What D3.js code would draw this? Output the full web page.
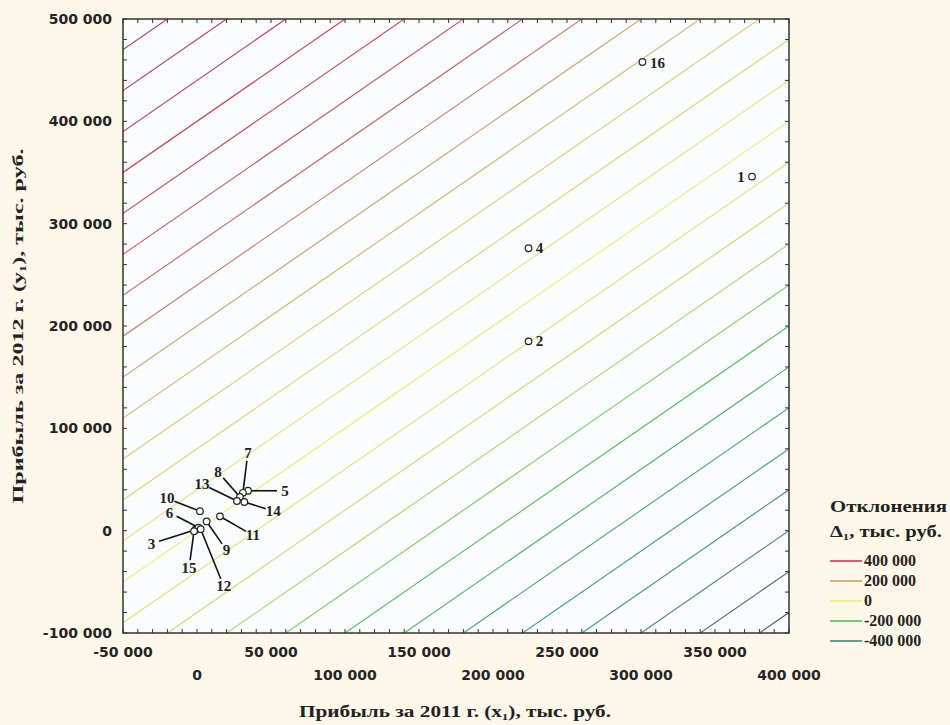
<!DOCTYPE html>
<html><head><meta charset="utf-8">
<script src="https://cdn.jsdelivr.net/npm/d3@7"></script>
<style>body{margin:0;background:#fcf7e9;} svg{display:block}</style>
</head><body><svg id="c" width="950" height="725"></svg>
<script>
// ---- data ----
const pointLabels = ["1","2","3","4","5","6","7","8","9","10","11","12","13","14","15","16"];
const profit2011 = [375000, 224000, -1000, 224000, 34500, 1000, 31000, 29000, 6500, 2000, 15500, 2500, 27000, 32000, -2000, 301000];
const profit2012 = [346000, 185000, 1000, 276000, 39000, 3000, 37000, 33000, 9000, 19000, 14000, 1500, 29000, 28000, -500, 458000];
const contourLevels = [520000, 480000, 440000, 400000, 360000, 320000, 280000, 240000, 200000, 160000, 120000, 80000, 40000, 0,
  -40000, -80000, -120000, -160000, -200000, -240000, -280000, -320000, -360000, -400000, -440000, -480000];
const legendLevels = [400000, 200000, 0, -200000, -400000];
const xTickValues = [-50000, 0, 50000, 100000, 150000, 200000, 250000, 300000, 350000, 400000];
const yTickValues = [-100000, 0, 100000, 200000, 300000, 400000, 500000];
const xTitle = "Прибыль за 2011 г. (x\u2081), тыс. руб.";
const yTitle = "Прибыль за 2012 г. (y\u2081), тыс. руб.";
const legendTitle1 = "Отклонения";
const legendTitle2 = "\u0394\u2081, тыс. руб.";

// ---- layout ----
const L = 123, R = 789, T = 19, B = 633;
const svg = d3.select("#c");
const x = d3.scaleLinear().domain([-50000, 400000]).range([L, R]);
const y = d3.scaleLinear().domain([-100000, 500000]).range([B, T]);
const color = d3.scaleLinear()
  .domain([-480000, -400000, -300000, -200000, -100000, 0, 120000, 200000, 260000, 400000, 480000, 520000])
  .range(["#4d5656", "#3f8574", "#41a27a", "#4cc05a", "#b6e066", "#e9ef6c", "#dccb74", "#c6a066", "#cc6c64", "#cf3452", "#b43868", "#9c3a76"]);
const loc = d3.formatLocale({decimal: ".", thousands: " ", grouping: [3], currency: ["", ""], minus: "-"});
const fmt = loc.format(",d");

svg.append("rect").attr("width", 950).attr("height", 725).attr("fill", "#fcf7e9");
svg.append("rect").attr("x", L).attr("y", T).attr("width", R - L).attr("height", B - T).attr("fill", "#fbfcfd");

svg.append("defs").append("clipPath").attr("id", "clip")
  .append("rect").attr("x", L).attr("y", T).attr("width", R - L).attr("height", B - T);

// contour lines: Δ = y - x = level
const line = d3.line().x(d => x(d[0])).y(d => y(d[1]));
const gC = svg.append("g").attr("clip-path", "url(#clip)");
contourLevels.forEach(lv => {
  const xs = [-700000, 700000];
  gC.append("path")
    .attr("d", line(xs.map(v => [v, v + lv])))
    .attr("fill", "none").attr("stroke", color(lv)).attr("stroke-width", 1.1);
});

// frame
svg.append("rect").attr("x", L).attr("y", T).attr("width", R - L).attr("height", B - T)
  .attr("fill", "none").attr("stroke", "#333").attr("stroke-width", 1.5);

// ticks (inward, all sides)
const xMinor = d3.range(-50000, 400001, 10000);
const yMinor = d3.range(-100000, 500001, 20000);
const gt = svg.append("g").attr("stroke", "#333").attr("stroke-width", 1);
xMinor.forEach(v => {
  gt.append("line").attr("x1", x(v)).attr("x2", x(v)).attr("y1", B).attr("y2", B - 4);
  gt.append("line").attr("x1", x(v)).attr("x2", x(v)).attr("y1", T).attr("y2", T + 4);
});
yMinor.forEach(v => {
  gt.append("line").attr("y1", y(v)).attr("y2", y(v)).attr("x1", L).attr("x2", L + 4);
  gt.append("line").attr("y1", y(v)).attr("y2", y(v)).attr("x1", R).attr("x2", R - 4);
});

// tick labels
const tickFont = "'DejaVu Sans', sans-serif";
xTickValues.forEach((v, i) => {
  svg.append("text").attr("x", x(v)).attr("y", i % 2 === 0 ? 657 : 680)
    .attr("text-anchor", "middle").attr("font-family", tickFont).attr("font-weight", "bold")
    .attr("font-size", 14).attr("fill", "#242424").text(fmt(v));
});
yTickValues.forEach(v => {
  svg.append("text").attr("x", 112).attr("y", y(v) + 5)
    .attr("text-anchor", "end").attr("font-family", tickFont).attr("font-weight", "bold")
    .attr("font-size", 14).attr("fill", "#242424").text(fmt(v));
});

// axis titles
const serif = "'Liberation Serif', 'Times New Roman', serif";
svg.append("text").attr("x", 455).attr("y", 717).attr("text-anchor", "middle")
  .attr("font-family", serif).attr("font-weight", "bold").attr("font-size", 16).attr("fill", "#222")
  .attr("textLength", 312).attr("lengthAdjust", "spacingAndGlyphs").text(xTitle);
svg.append("text").attr("transform", "translate(23,326) rotate(-90)").attr("text-anchor", "middle")
  .attr("font-family", serif).attr("font-weight", "bold").attr("font-size", 15).attr("fill", "#222")
  .attr("textLength", 355).attr("lengthAdjust", "spacingAndGlyphs").text(yTitle);

// label offsets (pixels, label center relative to point) and leader-line flags
const labelOffsets = {
  "1": [-11, 0, false], "2": [11, 0, false], "4": [11, 0, false], "16": [15, 1, false],
  "5": [37, 0, true], "7": [5, -40, true], "8": [-22, -25, true], "13": [-35, -17, true],
  "14": [29, 9, true], "10": [-33, -13, true], "6": [-29, -15, true], "9": [20, 29, true],
  "11": [33, 19, true], "3": [-44, 14, true], "15": [-5, 37, true], "12": [23, 57, true]
};
const r = 3.3;
const gP = svg.append("g");
pointLabels.forEach((lab, i) => {
  const cx = x(profit2011[i]), cy = y(profit2012[i]);
  const [dx, dy, lead] = labelOffsets[lab];
  if (lead) {
    const d = Math.hypot(dx, dy), ux = dx / d, uy = dy / d;
    gP.append("line").attr("x1", cx + ux * r).attr("y1", cy + uy * r)
      .attr("x2", cx + ux * (d - 8)).attr("y2", cy + uy * (d - 8))
      .attr("stroke", "#111").attr("stroke-width", 1.6);
  }
});
pointLabels.forEach((lab, i) => {
  const cx = x(profit2011[i]), cy = y(profit2012[i]);
  const [dx, dy] = labelOffsets[lab];
  gP.append("circle").attr("cx", cx).attr("cy", cy).attr("r", r)
    .attr("fill", "#fff").attr("stroke", "#222").attr("stroke-width", 1.2);
  gP.append("text").attr("x", cx + dx).attr("y", cy + dy + 5).attr("text-anchor", "middle")
    .attr("font-family", serif).attr("font-weight", "bold").attr("font-size", 15).attr("fill", "#222")
    .text(lab);
});

// legend
const lx = 830;
svg.append("text").attr("x", lx).attr("y", 512).attr("font-family", serif).attr("font-weight", "bold")
  .attr("font-size", 17).attr("fill", "#222").attr("textLength", 117).attr("lengthAdjust", "spacingAndGlyphs").text(legendTitle1);
svg.append("text").attr("x", lx).attr("y", 537).attr("font-family", serif).attr("font-weight", "bold")
  .attr("font-size", 17).attr("fill", "#222").attr("textLength", 112).attr("lengthAdjust", "spacingAndGlyphs").text(legendTitle2);
legendLevels.forEach((lv, i) => {
  const yy = 561 + i * 20;
  svg.append("line").attr("x1", lx).attr("x2", lx + 32).attr("y1", yy).attr("y2", yy)
    .attr("stroke", color(lv)).attr("stroke-width", 1.6);
  svg.append("text").attr("x", lx + 34).attr("y", yy + 5).attr("font-family", serif).attr("font-weight", "bold")
    .attr("font-size", 16).attr("fill", "#222").text(fmt(lv));
});
</script>
</body></html>
